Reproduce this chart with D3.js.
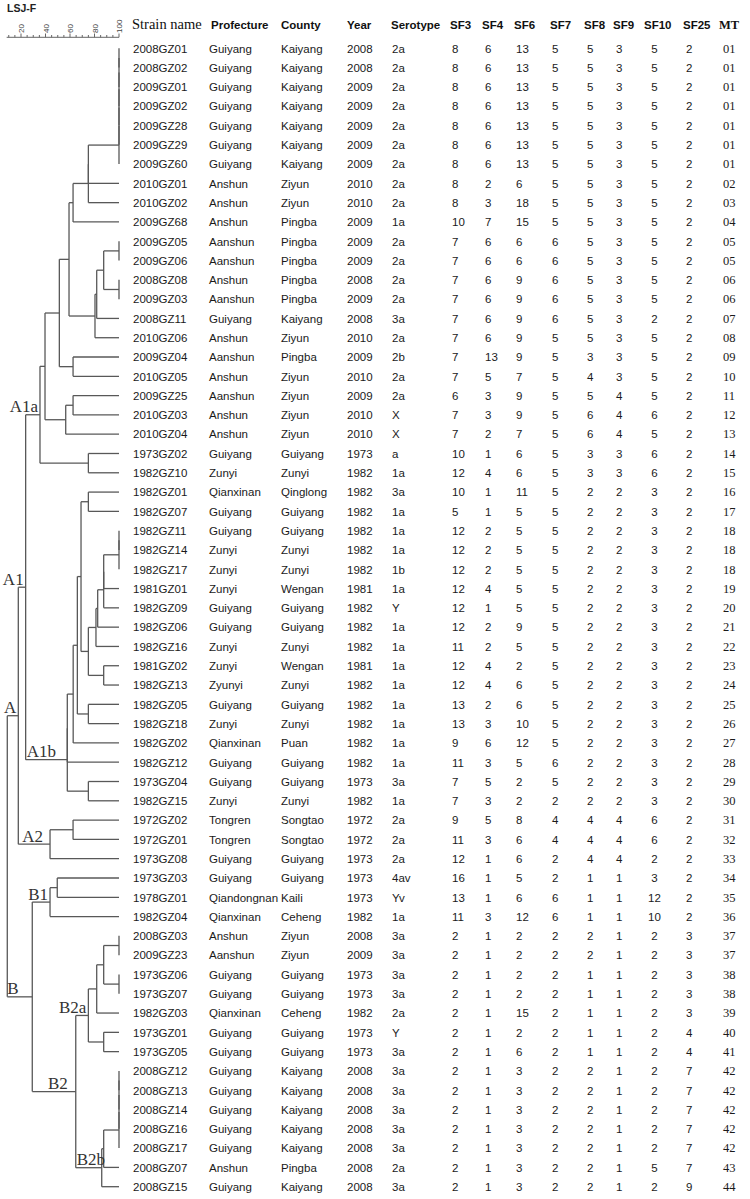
<!DOCTYPE html>
<html><head><meta charset="utf-8">
<script src="https://cdn.jsdelivr.net/npm/d3@7"></script>
<style>body{margin:0;background:#fff}svg{display:block}</style>
</head><body>
<script>
// ---------------- data ----------------
const strains = ["2008GZ01","2008GZ02","2009GZ01","2009GZ02","2009GZ28","2009GZ29","2009GZ60","2010GZ01","2010GZ02","2009GZ68",
"2009GZ05","2009GZ06","2008GZ08","2009GZ03","2008GZ11","2010GZ06","2009GZ04","2010GZ05","2009GZ25","2010GZ03",
"2010GZ04","1973GZ02","1982GZ10","1982GZ01","1982GZ07","1982GZ11","1982GZ14","1982GZ17","1981GZ01","1982GZ09",
"1982GZ06","1982GZ16","1981GZ02","1982GZ13","1982GZ05","1982GZ18","1982GZ02","1982GZ12","1973GZ04","1982GZ15",
"1972GZ02","1972GZ01","1973GZ08","1973GZ03","1978GZ01","1982GZ04","2008GZ03","2009GZ23","1973GZ06","1973GZ07",
"1982GZ03","1973GZ01","1973GZ05","2008GZ12","2008GZ13","2008GZ14","2008GZ16","2008GZ17","2008GZ07","2008GZ15"];
const prefectures = ["Guiyang","Guiyang","Guiyang","Guiyang","Guiyang","Guiyang","Guiyang","Anshun","Anshun","Anshun",
"Aanshun","Aanshun","Anshun","Aanshun","Guiyang","Anshun","Aanshun","Anshun","Aanshun","Anshun",
"Anshun","Guiyang","Zunyi","Qianxinan","Guiyang","Guiyang","Zunyi","Zunyi","Zunyi","Guiyang",
"Guiyang","Zunyi","Zunyi","Zyunyi","Guiyang","Zunyi","Qianxinan","Guiyang","Guiyang","Zunyi",
"Tongren","Tongren","Guiyang","Guiyang","Qiandongnan","Qianxinan","Anshun","Aanshun","Guiyang","Guiyang",
"Qianxinan","Guiyang","Guiyang","Guiyang","Guiyang","Guiyang","Guiyang","Guiyang","Anshun","Guiyang"];
const counties = ["Kaiyang","Kaiyang","Kaiyang","Kaiyang","Kaiyang","Kaiyang","Kaiyang","Ziyun","Ziyun","Pingba",
"Pingba","Pingba","Pingba","Pingba","Kaiyang","Ziyun","Pingba","Ziyun","Ziyun","Ziyun",
"Ziyun","Guiyang","Zunyi","Qinglong","Guiyang","Guiyang","Zunyi","Zunyi","Wengan","Guiyang",
"Guiyang","Zunyi","Wengan","Zunyi","Guiyang","Zunyi","Puan","Guiyang","Guiyang","Zunyi",
"Songtao","Songtao","Guiyang","Guiyang","Kaili","Ceheng","Ziyun","Ziyun","Guiyang","Guiyang",
"Ceheng","Guiyang","Guiyang","Kaiyang","Kaiyang","Kaiyang","Kaiyang","Kaiyang","Pingba","Kaiyang"];
const years = ["2008","2008","2009","2009","2009","2009","2009","2010","2010","2009",
"2009","2009","2008","2009","2008","2010","2009","2010","2009","2010",
"2010","1973","1982","1982","1982","1982","1982","1982","1981","1982",
"1982","1982","1981","1982","1982","1982","1982","1982","1973","1982",
"1972","1972","1973","1973","1973","1982","2008","2009","1973","1973",
"1982","1973","1973","2008","2008","2008","2008","2008","2008","2008"];
const serotypes = ["2a","2a","2a","2a","2a","2a","2a","2a","2a","1a",
"2a","2a","2a","2a","3a","2a","2b","2a","2a","X",
"X","a","1a","3a","1a","1a","1a","1b","1a","Y",
"1a","1a","1a","1a","1a","1a","1a","1a","3a","1a",
"2a","2a","2a","4av","Yv","1a","3a","3a","3a","3a",
"2a","Y","3a","3a","3a","3a","3a","3a","2a","3a"];
const sf3  = [8,8,8,8,8,8,8,8,8,10, 7,7,7,7,7,7,7,7,6,7, 7,10,12,10,5,12,12,12,12,12, 12,11,12,12,13,13,9,11,7,7, 9,11,12,16,13,11,2,2,2,2, 2,2,2,2,2,2,2,2,2,2];
const sf4  = [6,6,6,6,6,6,6,2,3,7, 6,6,6,6,6,6,13,5,3,3, 2,1,4,1,1,2,2,2,4,1, 2,2,4,4,2,3,6,3,5,3, 5,3,1,1,1,3,1,1,1,1, 1,1,1,1,1,1,1,1,1,1];
const sf6  = [13,13,13,13,13,13,13,6,18,15, 6,6,9,9,9,9,9,7,9,9, 7,6,6,11,5,5,5,5,5,5, 9,5,2,6,6,10,12,5,2,2, 8,6,6,5,6,12,2,2,2,2, 15,2,6,3,3,3,3,3,3,3];
const sf7  = [5,5,5,5,5,5,5,5,5,5, 6,6,6,6,6,5,5,5,5,5, 5,5,5,5,5,5,5,5,5,5, 5,5,5,5,5,5,5,6,5,2, 4,4,2,2,6,6,2,2,2,2, 2,2,2,2,2,2,2,2,2,2];
const sf8  = [5,5,5,5,5,5,5,5,5,5, 5,5,5,5,5,5,3,4,5,6, 6,3,3,2,2,2,2,2,2,2, 2,2,2,2,2,2,2,2,2,2, 4,4,4,1,1,1,2,2,1,1, 1,1,1,2,2,2,2,2,2,2];
const sf9  = [3,3,3,3,3,3,3,3,3,3, 3,3,3,3,3,3,3,3,4,4, 4,3,3,2,2,2,2,2,2,2, 2,2,2,2,2,2,2,2,2,2, 4,4,4,1,1,1,1,1,1,1, 1,1,1,1,1,1,1,1,1,1];
const sf10 = [5,5,5,5,5,5,5,5,5,5, 5,5,5,5,2,5,5,5,5,6, 5,6,6,3,3,3,3,3,3,3, 3,3,3,3,3,3,3,3,3,3, 6,6,2,3,12,10,2,2,2,2, 2,2,2,2,2,2,2,2,5,2];
const sf25 = [2,2,2,2,2,2,2,2,2,2, 2,2,2,2,2,2,2,2,2,2, 2,2,2,2,2,2,2,2,2,2, 2,2,2,2,2,2,2,2,2,2, 2,2,2,2,2,2,3,3,3,3, 3,4,4,7,7,7,7,7,7,9];
const mts  = ["01","01","01","01","01","01","01","02","03","04","05","05","06","06","07","08","09","10","11","12",
"13","14","15","16","17","18","18","18","19","20","21","22","23","24","25","26","27","28","29","30",
"31","32","33","34","35","36","37","37","38","38","39","40","41","42","42","42","42","42","43","44"];

const headers = ["Strain name","Profecture","County","Year","Serotype","SF3","SF4","SF6","SF7","SF8","SF9","SF10","SF25","MT"];
const scaleTicks = [20,40,60,80,100];

// dendrogram: N(similarity %, children...)
const N = (sim, ...kids) => ({sim, kids});
const cA1a = N(35.5,
  N(39.6,
    N(51.3,
      N(59.2,
        N(62.5, N(75, N(100,"2008GZ01","2008GZ02","2009GZ01","2009GZ02","2009GZ28","2009GZ29","2009GZ60"), "2010GZ01", "2010GZ02"), "2009GZ68"),
        N(80.4, N(81.8, N(87.5, N(100,"2009GZ05","2009GZ06"), N(100,"2008GZ08","2009GZ03")), "2008GZ11"), "2010GZ06")),
      N(62.5,"2009GZ04","2010GZ05")),
    N(56.5, N(62.5,"2009GZ25","2010GZ03"), "2010GZ04")),
  N(75,"1973GZ02","1982GZ10"));
const cA1b = N(57.8,
  N(62.6,
    N(66,
      N(69, N(75,"1982GZ01","1982GZ07"),
        N(75, N(81.2, N(82.6, N(87.5, N(100,"1982GZ11","1982GZ14","1982GZ17"), "1981GZ01", "1982GZ09"), "1982GZ06"), "1982GZ16"),
              N(87.5,"1981GZ02","1982GZ13"))),
      N(75,"1982GZ05","1982GZ18")),
    "1982GZ02"),
  "1982GZ12",
  N(75,"1973GZ04","1982GZ15"));
const cA1 = N(23.8, cA1a, cA1b);
const cA2 = N(43.7, N(62.5,"1972GZ02","1972GZ01"), "1973GZ08");
const cA = N(17.8, cA1, cA2);
const cB1 = N(43.7, N(49.6,"1973GZ03","1978GZ01"), "1982GZ04");
const cB2a = N(75, N(81.8, N(87.5, N(100,"2008GZ03","2009GZ23"), N(100,"1973GZ06","1973GZ07")), "1982GZ03"), N(87.5,"1973GZ01","1973GZ05"));
const cB2b = N(85.9, N(87.5, N(100,"2008GZ12","2008GZ13","2008GZ14","2008GZ16","2008GZ17"), "2008GZ07"), "2008GZ15");
const cB2 = N(64.7, cB2a, cB2b);
const cB = N(29.2, cB1, cB2);
const root = N(8.8, cA, cB);
const cladeLabels = [["A",cA],["A1",cA1],["A1a",cA1a],["A1b",cA1b],["A2",cA2],["B",cB],["B1",cB1],["B2",cB2],["B2a",cB2a],["B2b",cB2b]];

// ---------------- drawing ----------------
const W = 750, H = 1199;
const svg = d3.select("body").append("svg").attr("width", W).attr("height", H);
const sx = d3.scaleLinear().domain([0,100]).range([-3.5,119]);
const sy = d3.scalePoint().domain(strains).range([48.3,1186.7]);
const serif = "'Liberation Serif','Times New Roman',serif";
const sans = "'Liberation Sans',Arial,sans-serif";
const lineCol = "#585858";

// layout (binary ladder for multi-way merges)
const lines = [];
function lay(n){
  if (typeof n === "string") return {x: sx(100), y: sy(n)};
  const ks = n.kids.map(lay);
  const x = sx(n.sim);
  let cur = ks[0];
  for (let i=1;i<ks.length;i++){
    const k = ks[i];
    lines.push([x,cur.y,x,k.y]);
    lines.push([x,cur.y,cur.x,cur.y]);
    lines.push([x,k.y,k.x,k.y]);
    cur = {x, y:(cur.y+k.y)/2};
  }
  n.pos = cur;
  return cur;
}
function parents(n, p){ if (typeof n === "string") return; n.parent = p; n.kids.forEach(k=>parents(k,n)); }
lay(root); parents(root, null);

const g = svg.append("g").attr("stroke", lineCol).attr("stroke-width", 1.3).attr("fill","none");
g.selectAll("line").data(lines.filter(l=>!(l[0]===l[2]&&l[1]===l[3]))).join("line")
  .attr("x1",d=>d[0]).attr("y1",d=>d[1]).attr("x2",d=>d[2]).attr("y2",d=>d[3]);

// clade labels
const labelStyle = {A:["end",0],A1:["end",0],A1a:["end",0],A1b:["start",1],A2:["start",4],B:["start",0],B1:["end",0],B2:["end",-6],B2a:["end",0],B2b:["start",1]};
svg.append("g").selectAll("text").data(cladeLabels).join("text")
  .attr("x", d=>{const [a,dx]=labelStyle[d[0]]; return a==="end" ? d[1].pos.x-2+dx : d[1].parent.pos.x+dx;})
  .attr("y", d=>d[1].pos.y-2.5)
  .attr("text-anchor", d=>labelStyle[d[0]][0])
  .attr("font-family", serif).attr("font-size", 17).attr("fill","#333")
  .text(d=>d[0]);

// title
svg.append("text").attr("x",7).attr("y",12).attr("font-family",sans).attr("font-weight","bold")
  .attr("font-size",10.5).attr("fill","#222").text("LSJ-F");

// similarity scale
const ax = svg.append("g");
ax.append("line").attr("x1",sx(8.3)).attr("x2",sx(100)).attr("y1",37.3).attr("y2",37.3).attr("stroke","#666").attr("stroke-width",1);
ax.selectAll("line.t").data(d3.range(10,101,5)).join("line").attr("class","t")
  .attr("x1",d=>sx(d)).attr("x2",d=>sx(d)).attr("y1",37.3)
  .attr("y2",d=> scaleTicks.includes(d) ? 33.5 : 35).attr("stroke","#666").attr("stroke-width",1);
ax.selectAll("text").data(scaleTicks).join("text")
  .attr("transform",d=>`translate(${sx(d)+3},33) rotate(-90)`)
  .attr("font-family",sans).attr("font-size",8).attr("fill","#444").text(d=>d);

// table
const hx = [132,211,281,347,391,450,482,514,550,584,613,644,683,719];
const vx = [133,209,281,347,392,452,485,516,552,587,616,654.5,686,723];
const anchors = ["start","start","start","start","start","start","start","start","start","start","start","middle","start","start"];
const cols = [strains, prefectures, counties, years, serotypes, sf3, sf4, sf6, sf7, sf8, sf9, sf10, sf25, mts];
const hdr = svg.append("g");
headers.forEach((h,i)=>{
  const t = hdr.append("text").attr("x",hx[i]).attr("y",29).attr("fill","#111").text(h);
  if (i===0) t.attr("font-family",serif).attr("font-size",14.5);
  else if (i===13) t.attr("font-family",serif).attr("font-size",12.5).attr("font-weight","bold");
  else t.attr("font-family",sans).attr("font-size",11.5).attr("font-weight","bold");
});
const body = svg.append("g");
cols.forEach((col,ci)=>{
  body.append("g").selectAll("text").data(col).join("text")
    .attr("x",vx[ci]).attr("y",(d,i)=>sy(strains[i])+4.3)
    .attr("text-anchor",anchors[ci])
    .attr("font-family", ci===13 ? serif : sans)
    .attr("font-size", ci===13 ? 12.5 : 11.5)
    .attr("fill","#1a1a1a").text(d=>d);
});
</script>
</body></html>
